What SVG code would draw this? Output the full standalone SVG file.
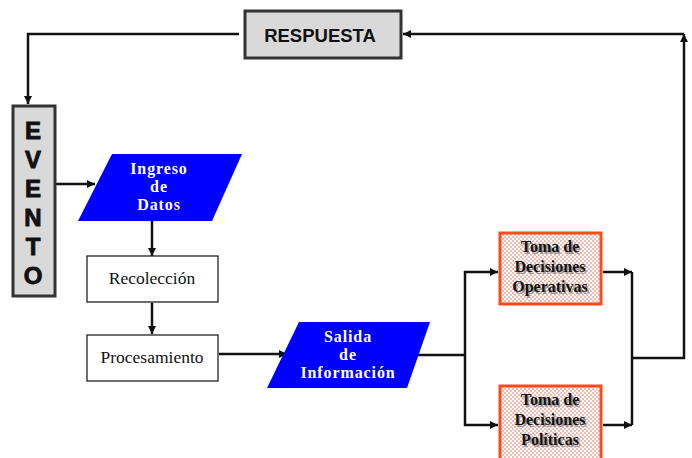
<svg xmlns="http://www.w3.org/2000/svg" width="692" height="458" viewBox="0 0 692 458">
<style>
.gray{fill:#d9d9d9;stroke:#333;stroke-width:3}
.blue{fill:#0000ff;stroke:none}
.plain{fill:#fff;stroke:#222;stroke-width:1.3}
.toma{fill:url(#dots);stroke:#ff4a1a;stroke-width:3}
.ln{fill:none;stroke:#111;stroke-width:2.5}
.arr{marker-end:url(#ah)}
.lt{font-family:"Liberation Sans",Arial,sans-serif;font-weight:bold;font-size:24px;fill:#111;stroke:#111;stroke-width:0.9;text-anchor:middle}
.rt{font-family:"Liberation Sans",Arial,sans-serif;font-weight:bold;font-size:18.5px;fill:#111;text-anchor:middle}
.wt{font-family:"Liberation Serif","Times New Roman",serif;font-weight:bold;font-size:16px;letter-spacing:0.9px;fill:#fff;text-anchor:middle}
.st{font-family:"Liberation Serif","Times New Roman",serif;font-size:17.5px;fill:#111;text-anchor:middle}
.tt{font-family:"Liberation Serif","Times New Roman",serif;font-weight:bold;font-size:16px;fill:#111;text-anchor:middle}
.ts{font-family:"Liberation Serif","Times New Roman",serif;font-weight:bold;font-size:16px;fill:#999;text-anchor:middle}
</style>
<defs>
<marker id="ah" viewBox="0 0 10 10" refX="10" refY="5" markerWidth="3.6" markerHeight="3.2" orient="auto" markerUnits="strokeWidth">
<path d="M0,0 L10,5 L0,10 z" fill="#111"/>
</marker>
<pattern id="dots" width="4" height="4" patternUnits="userSpaceOnUse">
<rect width="4" height="4" fill="#fff"/>
<circle cx="1" cy="1" r="0.75" fill="#e8553a"/>
<circle cx="3" cy="3" r="0.75" fill="#e8553a"/>
</pattern>
</defs>
<g id="connectors">
<path class="ln arr" d="M239,34 H28 V104"/>
<path class="ln arr" d="M56,184 H95"/>
<path class="ln arr" d="M152,221 V256"/>
<path class="ln arr" d="M152,303 V334"/>
<path class="ln arr" d="M219,354 H287"/>
<path class="ln" d="M410,355 H465"/>
<path class="ln arr" d="M465,355 V272 H498"/>
<path class="ln arr" d="M465,355 V425 H498"/>
<path class="ln arr" d="M603,272 H632"/>
<path class="ln arr" d="M603,425 H632"/>
<path class="ln" d="M632,272 V425"/>
<path class="ln arr" d="M632,358 H684 V34"/>
<path class="ln arr" d="M684,34 H403"/>
</g>
<g id="respuesta">
<rect class="gray" x="245" y="11" width="156" height="47"/>
<text class="rt" x="320" y="42">RESPUESTA</text>
</g>
<g id="evento">
<rect class="gray" x="13" y="106" width="42" height="190"/>
<text class="lt" x="33" y="139">E</text>
<text class="lt" x="33" y="168">V</text>
<text class="lt" x="33" y="197">E</text>
<text class="lt" x="33" y="226">N</text>
<text class="lt" x="33" y="255">T</text>
<text class="lt" x="33" y="284">O</text>
</g>
<g id="ingreso">
<polygon class="blue" points="112,154 242,154 212,221 78,221"/>
<text class="wt" x="159" y="174">Ingreso</text>
<text class="wt" x="159" y="192">de</text>
<text class="wt" x="159" y="210">Datos</text>
</g>
<g id="recoleccion">
<rect class="plain" x="87" y="256" width="131" height="46"/>
<text class="st" x="152" y="284">Recolección</text>
</g>
<g id="procesamiento">
<rect class="plain" x="87" y="335" width="131" height="46"/>
<text class="st" x="152" y="363">Procesamiento</text>
</g>
<g id="salida">
<polygon class="blue" points="299,322 430,322 407,388 267,388"/>
<text class="wt" x="348" y="342">Salida</text>
<text class="wt" x="348" y="360">de</text>
<text class="wt" x="348" y="378">Información</text>
</g>
<g id="operativas">
<rect class="toma" x="500" y="233" width="101" height="71"/>
<text class="ts" x="551.5" y="253.5">Toma de</text>
<text class="ts" x="551.5" y="273.5">Decisiones</text>
<text class="ts" x="551.5" y="293.5">Operativas</text>
<text class="tt" x="550" y="252">Toma de</text>
<text class="tt" x="550" y="272">Decisiones</text>
<text class="tt" x="550" y="292">Operativas</text>
</g>
<g id="politicas">
<rect class="toma" x="500" y="386" width="101" height="76"/>
<text class="ts" x="551.5" y="406.5">Toma de</text>
<text class="ts" x="551.5" y="426.5">Decisiones</text>
<text class="ts" x="551.5" y="446.5">Políticas</text>
<text class="tt" x="550" y="405">Toma de</text>
<text class="tt" x="550" y="425">Decisiones</text>
<text class="tt" x="550" y="445">Políticas</text>
</g>
</svg>
